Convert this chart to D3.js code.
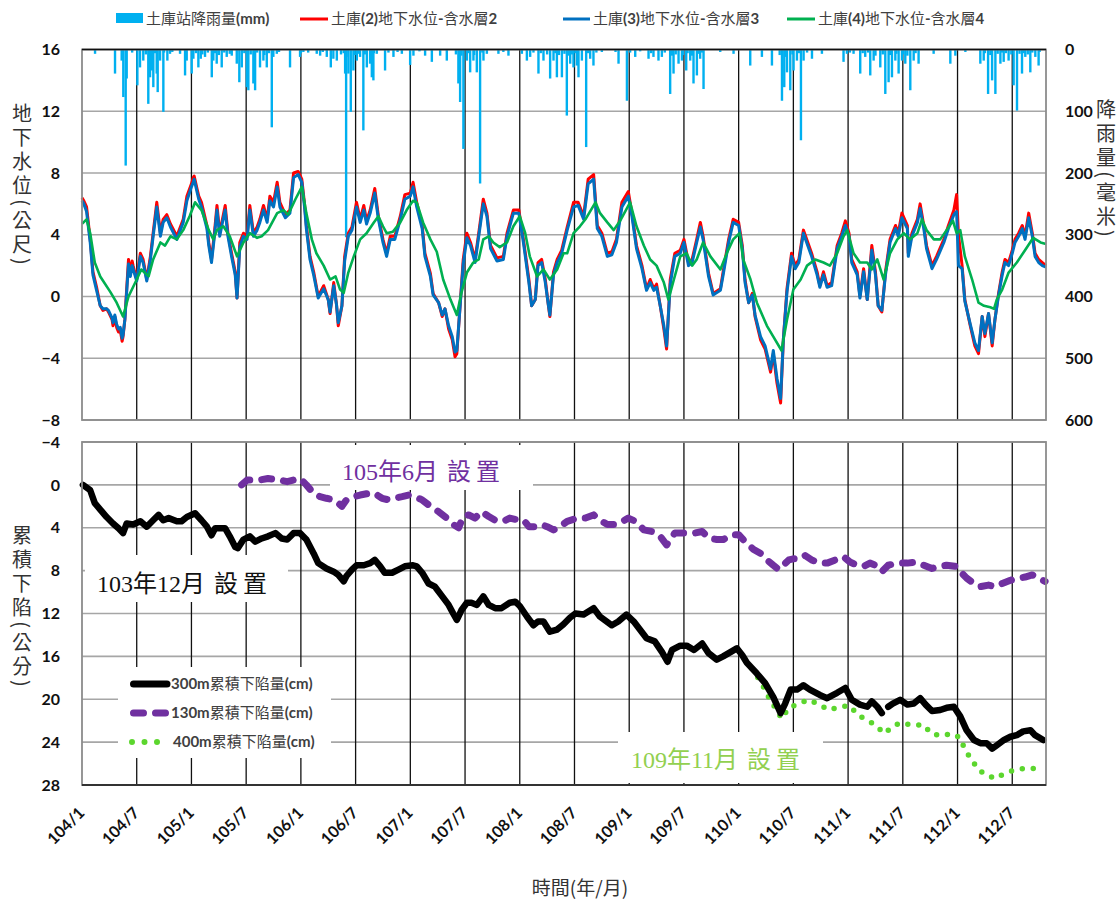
<!DOCTYPE html>
<html><head><meta charset="utf-8">
<script src="https://cdn.jsdelivr.net/npm/d3@7"></script>
<style>body{margin:0;background:#fff} svg{display:block}</style>
</head><body>
<svg id="chart" width="1120" height="900"></svg>
<script>
// ---------- DATA (months since 104/1) ----------
const halfYearTicks = [0,6,12,18,24,30,36,42,48,54,60,66,72,78,84,90,96,102];
const tickLabels = ["104/1","104/7","105/1","105/7","106/1","106/7","107/1","107/7","108/1","108/7","109/1","109/7","110/1","110/7","111/1","111/7","112/1","112/7"];
const levelTicks = [16,12,8,4,0,-4,-8];
const rainTicks = [0,100,200,300,400,500,600];
const subsTicks = [-4,0,4,8,12,16,20,24,28];

const legendTop = ["土庫站降雨量(mm)","土庫(2)地下水位-含水層2","土庫(3)地下水位-含水層3","土庫(4)地下水位-含水層4"];
const legendBottom = ["300m累積下陷量(cm)","130m累積下陷量(cm)","400m累積下陷量(cm)"];

const wlMonths = [0,0.2,0.5,0.9,1.2,1.6,2.0,2.3,2.7,2.9,3.3,3.4,3.6,3.8,4.0,4.2,4.4,4.5,4.7,4.9,5.1,5.3,5.5,5.6,6.0,6.4,6.7,7.1,7.5,7.8,8.2,8.6,8.9,9.3,9.7,10.4,11.1,11.5,12.0,12.2,12.3,12.6,12.8,13.1,13.7,13.9,14.2,14.5,14.8,15.1,15.4,15.7,16.0,16.4,16.8,17.0,17.3,17.7,18.1,18.4,18.8,19.2,19.5,19.9,20.3,20.6,21.0,21.4,21.7,22.3,22.8,23.2,23.7,24.1,24.4,24.6,25.0,25.4,25.9,26.5,27.0,27.2,27.6,27.9,28.1,28.5,28.8,29.2,29.6,30.1,30.5,30.9,31.2,31.6,32.1,32.5,33.0,33.4,33.8,34.3,34.9,35.4,36.0,36.3,36.7,37.3,37.6,38.2,38.5,39.1,39.5,39.8,40.2,40.6,40.9,41.1,41.5,41.8,42.2,42.6,43.1,43.5,44.0,44.4,44.8,45.5,46.2,46.6,47.3,47.9,48.4,49.0,49.3,49.7,50.0,50.4,50.8,51.1,51.3,51.7,52.1,52.6,53.2,53.9,54.4,55.0,55.5,56.1,56.5,57.0,57.6,58.1,58.6,59.2,59.9,60.3,60.8,61.4,61.9,62.3,62.7,63.0,63.4,63.8,64.1,64.5,65.0,65.6,66.0,66.5,66.9,67.4,67.8,68.1,68.7,69.2,70.0,70.3,70.9,71.4,72.0,72.4,72.7,73.1,73.5,73.8,74.4,74.9,75.5,75.8,76.2,76.6,76.9,77.3,77.8,78.2,78.6,79.1,79.7,80.0,80.6,80.9,81.3,81.7,82.2,82.8,83.3,83.7,84.1,84.4,85.0,85.3,85.7,86.1,86.6,87.0,87.3,87.7,88.1,88.6,89.2,89.5,89.9,90.5,90.6,91.0,91.6,91.9,92.3,92.6,93.2,93.7,94.5,95.0,95.6,95.9,96.1,96.5,96.8,97.4,97.9,98.3,98.7,99.0,99.4,99.8,100.1,100.5,100.9,101.2,101.6,102.0,102.3,102.7,103.1,103.4,103.8,104.2,104.5,104.9,105.3,105.7];
const aquifer2 = [6.4,6.2,5.8,3.7,1.6,0.6,-0.6,-0.9,-0.8,-1.0,-1.5,-1.9,-1.3,-2.0,-2.3,-2.2,-2.9,-2.6,-1.5,0.5,2.4,1.5,2.3,2.0,1.1,2.8,2.4,1.1,2.6,4.1,6.1,4.1,5.0,5.3,4.7,3.9,5.0,6.5,7.3,7.7,7.8,7.0,6.5,6.1,4.6,3.5,2.4,4.0,5.9,4.1,5.0,5.9,4.1,2.8,1.6,-0.1,3.5,4.1,3.9,5.9,4.1,4.5,5.0,5.9,5.0,6.5,6.1,7.4,6.1,5.3,5.6,8.0,8.1,7.6,6.0,4.6,2.6,1.6,0.0,0.7,-0.2,-1.1,0.9,-0.5,-1.9,-0.6,2.6,4.1,4.5,6.1,5.0,5.9,4.9,5.6,7.0,5.2,3.7,2.8,3.9,3.9,5.2,6.6,6.7,7.4,6.1,4.6,2.8,1.5,0.2,-0.4,-1.3,-0.8,-2.1,-2.8,-3.9,-3.7,-0.2,2.4,4.1,3.5,2.4,4.1,6.3,5.4,3.3,2.5,2.6,4.1,5.6,5.6,3.7,1.1,-0.6,-0.2,2.2,2.4,1.1,-0.4,-1.3,1.6,2.4,3.0,4.5,6.1,6.1,5.2,7.6,7.9,4.6,4.1,2.8,2.9,3.7,6.1,6.8,5.4,3.3,2.0,0.5,1.1,0.5,0.8,-0.6,-2.1,-3.4,1.1,2.8,3.0,3.7,2.2,2.4,3.7,4.8,3.9,1.5,0.2,0.5,1.6,3.7,5.0,4.8,3.3,1.1,-0.4,0.2,-1.3,-2.8,-3.4,-4.9,-3.7,-5.6,-6.9,-2.8,0.5,2.8,2.0,2.4,4.3,3.3,2.8,1.6,0.7,1.6,0.7,0.9,3.3,4.1,4.9,4.1,2.4,1.6,0.0,1.8,-0.2,3.3,1.6,-0.6,-1.0,1.6,3.7,4.6,4.1,5.4,4.6,2.8,4.1,5.0,6.0,4.6,3.3,2.0,2.6,3.7,4.6,5.6,6.6,4.0,2.0,-0.2,-1.9,-3.2,-3.7,-1.3,-2.6,-1.1,-3.2,-1.5,0.2,1.6,2.4,2.2,3.0,3.7,4.1,4.6,3.9,5.4,4.1,2.8,2.4,2.2,2.0];
const aquifer3 = [6.2,6.0,5.5,3.5,1.4,0.4,-0.6,-0.8,-0.8,-0.9,-1.4,-1.7,-1.2,-1.8,-2.1,-2.0,-2.7,-2.5,-1.5,0.3,2.1,1.3,2.0,1.8,1.0,2.6,2.2,1.0,2.4,3.9,5.8,3.9,4.8,5.1,4.5,3.7,4.8,6.2,7.1,7.4,7.6,6.8,6.3,5.8,4.4,3.3,2.2,3.8,5.6,3.9,4.8,5.6,3.9,2.6,1.4,-0.1,3.2,3.9,3.7,5.6,3.9,4.3,4.8,5.6,4.8,6.2,5.8,7.1,5.8,5.1,5.4,7.7,7.9,7.4,5.8,4.4,2.4,1.4,-0.1,0.5,-0.2,-1.0,0.7,-0.5,-1.7,-0.6,2.3,3.9,4.3,5.8,4.8,5.6,4.7,5.4,6.7,5.0,3.5,2.6,3.7,3.7,5.0,6.3,6.5,7.1,5.8,4.4,2.6,1.3,0.1,-0.4,-1.2,-0.8,-1.9,-2.6,-3.6,-3.5,-0.3,2.1,3.8,3.3,2.2,3.9,6.0,5.2,3.1,2.3,2.4,3.9,5.4,5.4,3.5,0.9,-0.6,-0.2,2.0,2.2,0.9,-0.4,-1.2,1.4,2.2,2.8,4.3,5.8,5.9,5.0,7.3,7.6,4.4,3.9,2.6,2.7,3.5,5.8,6.5,5.2,3.1,1.8,0.4,0.9,0.4,0.6,-0.6,-1.9,-3.2,0.8,2.6,2.8,3.5,2.0,2.2,3.5,4.5,3.7,1.3,0.1,0.4,1.4,3.5,4.8,4.6,3.1,0.9,-0.4,0.1,-1.2,-2.6,-3.2,-4.7,-3.5,-5.3,-6.6,-2.8,0.3,2.6,1.8,2.2,4.1,3.1,2.6,1.4,0.6,1.4,0.6,0.7,3.1,3.9,4.6,3.9,2.2,1.4,-0.1,1.6,-0.2,3.0,1.4,-0.6,-0.9,1.4,3.5,4.4,3.9,5.1,4.4,2.6,3.9,4.8,5.7,4.4,3.1,1.8,2.4,3.5,4.4,5.3,5.5,2.0,1.8,-0.3,-1.8,-3.0,-3.5,-1.3,-2.4,-1.1,-3.0,-1.5,0.1,1.4,2.2,2.0,2.8,3.5,3.9,4.4,3.7,5.1,3.9,2.6,2.2,2.0,1.9];

const aq4Months = [0,0.5,0.9,1.4,2.0,3.1,3.8,4.5,5.1,6.0,6.5,7.3,7.8,8.6,9.1,9.7,10.4,11.1,11.8,12.4,13.1,13.9,14.4,14.8,15.5,16.2,17.0,17.7,18.4,19.2,19.7,20.4,21.4,22.1,22.6,23.4,24.1,24.6,25.2,25.7,26.5,27.2,27.8,28.3,28.7,29.2,29.8,30.5,31.2,32.0,32.5,33.0,33.4,34.1,34.9,35.6,36.3,36.7,37.4,38.2,38.9,39.6,40.4,41.1,41.6,42.2,42.9,43.5,44.0,44.6,45.1,45.8,46.6,47.3,48.0,48.6,49.1,49.9,50.6,51.3,52.1,52.8,53.2,53.9,54.6,55.2,56.3,56.8,57.6,58.3,59.0,60.1,60.8,61.6,62.3,63.0,63.8,64.3,64.9,65.6,66.3,66.9,67.4,68.1,68.9,70.0,70.7,71.4,72.1,72.5,73.3,74.0,75.1,75.8,76.7,77.3,78.0,78.8,79.5,80.4,81.3,82.0,82.8,83.5,83.9,84.6,85.3,86.1,86.6,87.2,87.9,88.6,89.4,90.1,90.8,91.6,92.1,92.6,93.4,94.1,94.8,95.5,95.9,96.3,96.8,97.6,98.3,98.9,99.6,100.0,100.3,100.9,101.6,102.5,103.4,104.3,105.1,105.7];
const aquifer4 = [4.7,5.0,4.1,2.2,1.3,0.3,-0.4,-1.3,0.0,1.1,1.75,1.3,2.4,3.5,3.3,3.9,3.7,4.3,5.2,6.1,5.6,4.3,3.7,4.3,4.55,3.9,2.6,3.5,4.1,3.8,3.9,4.3,5.4,5.6,5.3,6.3,7.1,5.4,3.7,2.8,2.0,1.1,1.3,0.45,0.24,1.55,2.6,3.7,4.1,4.8,5.2,4.55,4.1,4.2,4.8,5.6,6.2,6.1,4.8,3.7,2.9,1.1,-0.2,-1.2,0.24,1.55,2.2,2.4,3.7,3.9,3.5,3.2,3.5,4.55,5.2,4.1,2.6,1.3,1.75,1.1,1.75,2.8,2.8,4.1,4.55,5.0,6.1,5.4,4.8,4.3,4.9,6.1,4.55,3.3,2.4,2.0,0.9,-0.2,1.1,2.6,2.8,2.0,2.4,3.5,2.6,1.75,2.8,3.7,4.1,2.4,1.1,-0.4,-1.9,-2.6,-3.5,-1.5,0.45,1.1,2.0,2.4,2.2,2.0,2.8,3.9,4.3,2.8,2.2,2.2,1.75,2.4,1.1,2.8,3.7,4.1,3.7,4.1,5.0,4.3,3.7,3.7,4.3,4.9,4.1,4.3,2.6,1.1,-0.4,-0.6,-0.7,-0.8,-0.2,0.45,1.55,2.2,3.0,3.8,3.5,3.4];

const rainMonths = [1.43,3.62,4.35,4.53,4.79,4.90,6.07,6.36,6.72,7.27,7.46,7.65,7.82,8.19,8.30,8.56,8.92,9.36,9.65,10.75,11.30,11.48,12.03,12.21,12.76,13.02,13.49,14.23,14.40,14.77,15.32,15.87,16.42,16.97,17.25,17.52,18.07,18.24,18.79,18.98,19.52,19.89,20.26,20.81,20.98,21.36,22.81,23.91,24.27,25.74,26.11,26.84,27.28,27.56,27.94,28.85,28.96,29.21,29.47,29.76,30.13,30.49,30.85,31.23,31.59,31.78,31.95,32.32,33.23,34.15,35.07,35.98,36.34,37.62,38.36,39.27,40.00,41.27,41.46,41.82,42.20,42.56,42.92,43.29,43.65,44.02,44.39,45.66,46.76,48.23,48.78,49.14,50.05,50.60,51.33,51.70,52.07,52.62,53.16,53.53,53.89,54.26,54.44,54.81,55.28,55.72,56.08,57.00,58.83,59.75,60.66,62.12,62.66,63.21,63.58,64.49,64.86,65.41,65.78,66.25,66.69,67.05,67.42,67.78,68.15,69.98,71.44,73.27,74.55,75.65,76.75,77.00,77.30,77.66,78.02,78.39,78.83,79.12,80.04,81.13,83.50,83.87,84.60,85.33,85.88,86.43,86.80,87.53,88.08,88.44,88.81,89.18,89.54,89.91,90.27,90.82,91.19,91.73,93.38,95.21,95.76,96.86,98.50,98.87,99.35,99.79,100.15,100.70,101.06,101.60,102.15,102.52,103.07,103.43,103.98,104.53,104.89,
  5.5,7.0,8.0,9.0,9.9,12.5,13.2,13.8,14.6,15.0,15.6,16.2,17.8,18.5,19.2,20.0,20.5,21.6,24.0,24.8,26.4,28.4,28.7,29.0,29.9,30.3,31.0,32.0,33.6,34.6,37.0,41.0,41.6,42.4,43.0,43.9,46.2,49.5,50.3,51.0,51.9,52.3,52.9,53.3,53.7,54.1,55.5,56.4,58.5,60.1,61.2,62.4,63.9,64.7,65.1,65.9,66.4,66.9,67.6,68.0,76.5,77.2,77.9,78.6,79.5,84.2,85.6,86.2,87.0,87.8,88.6,89.3,90.0,90.5,91.4,99.0,99.6,100.4,100.9,101.3,101.9,102.8,103.3,103.7,104.2,105.0];
const rainMM = [7,39,18,77,188,47,58,29,18,88,45,34,61,39,69,18,101,18,7,7,42,18,39,15,29,15,12,45,18,23,29,12,10,23,53,29,61,66,55,66,29,18,29,126,12,7,29,12,4,7,10,12,29,15,18,39,304,39,101,34,18,12,131,29,23,45,50,7,34,12,7,25,10,10,20,10,18,55,85,161,18,37,18,37,217,18,7,7,10,7,18,12,39,18,47,18,45,45,107,23,29,26,45,18,158,15,26,4,23,83,12,15,12,18,12,72,39,23,18,34,18,55,42,15,64,4,7,26,12,26,83,61,37,66,34,18,147,18,15,7,20,7,7,39,12,42,18,29,72,53,45,18,39,18,23,66,18,23,7,23,10,4,23,18,72,50,72,23,20,18,58,99,39,12,37,12,26,
  5,8,6,5,4,6,8,5,6,9,5,7,6,8,5,9,6,4,6,5,4,8,6,12,9,7,8,6,5,4,3,8,10,6,9,5,4,5,6,8,6,9,7,10,8,6,6,5,4,5,3,6,5,10,8,9,6,10,7,5,9,12,8,6,5,5,6,5,10,8,9,7,8,10,6,6,9,7,5,6,8,7,6,8,5,4];

const s300Months = [0.1,0.9,1.4,2.0,2.7,3.4,4.0,4.5,4.9,5.6,6.4,7.1,7.8,8.4,8.9,9.5,10.4,10.9,11.5,12.4,13.1,13.7,14.2,14.6,15.1,15.7,16.2,16.8,17.1,17.7,18.4,19.0,19.7,20.4,21.2,21.9,22.5,23.2,23.9,24.6,25.4,25.9,26.8,27.6,28.1,28.7,29.0,29.6,30.1,30.9,31.6,32.1,32.7,33.2,34.0,34.7,35.4,36.3,36.7,37.3,38.0,38.7,39.5,40.2,40.7,41.1,41.6,42.2,42.7,43.3,44.0,44.6,45.3,46.0,46.9,47.5,48.0,48.8,49.5,50.0,50.6,51.3,52.1,52.8,53.5,54.1,55.0,56.1,56.8,58.1,58.8,59.7,60.5,61.9,62.8,63.6,64.2,64.7,65.6,66.3,67.1,68.0,68.7,69.6,70.3,71.1,71.8,72.4,72.9,74.0,74.9,75.8,76.6,77.1,77.7,78.4,79.1,79.8,80.9,81.7,82.8,83.7,84.4,85.3,86.1,86.6,87.2,87.7,88.0,88.4,88.9,89.7,90.5,91.2,91.9,92.5,93.2,94.1,94.8,95.6,96.3,97.0,97.8,98.5,99.2,99.8,100.3,101.1,101.8,102.5,103.2,104.0,104.5,105.4];
const s300 = [0,0.5,1.7,2.3,3.0,3.6,4.05,4.5,3.6,3.7,3.4,3.9,3.3,2.8,3.3,3.1,3.4,3.4,3.0,2.65,3.3,3.9,4.7,4.05,4.05,4.05,4.8,5.8,5.9,5.1,4.8,5.3,5.0,4.8,4.5,5.0,5.1,4.5,4.5,5.1,6.4,7.3,7.8,8.1,8.4,9.0,8.5,7.9,7.5,7.5,7.3,7.0,7.6,8.2,8.2,7.9,7.6,7.5,7.6,8.2,9.2,9.5,10.4,11.2,12.0,12.6,11.7,11.0,11.0,11.2,10.4,11.2,11.5,11.5,11.0,10.9,11.3,12.3,13.1,12.75,12.75,13.7,13.5,13.0,12.4,12.0,12.1,11.5,12.3,13.1,12.75,12.1,12.75,14.3,14.6,15.6,16.5,15.4,15.0,15.0,15.4,14.8,15.7,16.3,16.0,15.6,15.25,15.9,16.6,17.6,18.5,19.8,21.3,20.4,19.1,19.1,18.7,19.1,19.6,19.9,19.4,18.95,20.05,20.5,20.7,20.2,20.7,21.3,null,20.7,20.4,20.05,20.5,20.4,19.9,20.5,21.1,21.0,20.8,20.7,21.6,22.9,23.8,24.1,24.1,24.6,24.3,23.8,23.5,23.35,23.0,22.9,23.35,23.8];

const s130Months = [17.5,18.1,19.5,20.4,21.7,22.5,23.2,23.9,24.6,25.4,26.1,26.8,27.6,28.1,28.5,29.0,29.8,30.5,31.4,32.1,32.9,33.6,34.3,35.1,35.8,36.5,37.3,38.2,39.1,40.0,40.7,41.3,41.8,42.4,43.1,43.8,44.6,45.3,46.2,46.9,47.7,48.4,49.0,49.7,50.4,51.0,51.7,52.4,53.2,54.3,55.2,56.1,56.7,57.6,58.5,59.0,59.9,60.7,61.6,62.5,63.4,64.1,65.0,66.0,66.5,67.2,68.0,68.7,69.6,70.3,71.3,72.0,72.7,73.6,74.4,75.1,75.8,76.4,76.9,77.5,78.0,78.8,79.3,80.0,80.9,81.7,82.6,83.5,84.2,85.0,85.7,86.4,87.0,87.7,88.4,89.4,90.5,91.4,92.3,93.2,94.1,94.8,95.8,96.3,97.0,97.8,98.5,99.4,100.1,100.9,101.8,102.7,103.4,104.2,104.9,105.6];
const s130 = [0.0,-0.45,-0.45,-0.6,-0.45,-0.3,-0.45,-0.6,0.0,0.8,1.1,1.25,1.4,1.7,2.0,1.4,1.1,0.95,0.8,0.8,1.25,1.4,1.25,1.1,0.95,1.1,1.4,2.0,2.5,3.1,3.7,4.0,2.95,2.8,3.1,2.5,2.95,3.3,3.4,3.1,3.25,3.25,3.9,3.9,3.7,3.9,4.2,3.9,3.4,3.1,3.1,2.8,3.25,3.7,3.7,3.55,3.1,3.4,4.2,4.35,4.8,5.6,4.5,4.5,4.5,4.5,4.35,4.95,5.1,5.1,4.65,4.65,5.3,6.0,6.4,7.0,7.5,7.9,7.5,7.0,6.9,6.9,6.6,7.0,7.3,7.3,7.0,6.7,7.2,7.5,7.6,7.3,7.5,8.1,7.5,7.3,7.3,7.2,7.5,7.8,7.6,7.5,7.6,8.1,8.7,9.2,9.5,9.35,9.5,9.2,8.9,8.7,8.6,8.4,8.7,9.0];

const s400Months = [72.7,73.5,74.2,74.9,75.5,76.2,76.7,77.5,78.6,79.7,80.8,81.9,83.1,84.2,85.0,85.9,86.6,87.3,88.1,88.6,89.7,91.0,92.3,93.1,94.1,95.4,96.3,96.8,97.6,98.3,99.2,100.1,101.2,102.3,103.4,104.5];
const s400 = [16.3,17.2,18.1,19.1,20.2,21.0,21.8,20.8,20.4,20.05,20.5,21.0,20.7,20.6,21.4,21.9,22.2,22.7,23.2,22.7,22.2,22.4,22.4,23.2,23.4,23.2,23.6,24.7,25.7,26.6,27.05,27.4,26.9,26.6,26.45,26.45];

// ---------- DRAWING ----------
const svg = d3.select("#chart");
const L = 82, R = 1046;
const TT = 49.5, TB = 420, BT = 442, BB = 785;
const x = d3.scaleLinear().domain([0, 105.7]).range([L, R]);
const yT = d3.scaleLinear().domain([-8, 16]).range([TB, TT]);
const yRain = d3.scaleLinear().domain([0, 600]).range([TT, TB]);
const yB = d3.scaleLinear().domain([-4, 28]).range([BT, BB]);

const LATIN = "Lato, 'Noto Sans', 'DejaVu Sans', sans-serif";
const CJK = "'Noto Sans CJK TC', 'Noto Sans CJK SC', sans-serif";
const GRID = "#a6a6a6";

function mixed(sel, str, latinW, cjkW) {
  str.split(/([\x00-\x7F]+)/).filter(s => s.length).forEach(p => {
    const a = /^[\x00-\x7F]+$/.test(p);
    sel.append("tspan").text(p)
      .attr("font-family", a ? LATIN : CJK)
      .attr("font-weight", a ? latinW : cjkW);
  });
}
const zip = (ts, vs) => ts.map((t, i) => [t, vs[i]]);

// --- top panel grid
const gTop = svg.append("g");
gTop.selectAll("line.h").data(levelTicks).join("line")
  .attr("x1", L).attr("x2", R).attr("y1", d => yT(d)).attr("y2", d => yT(d))
  .attr("stroke", GRID).attr("stroke-width", 1.6);
gTop.selectAll("line.v").data(halfYearTicks.slice(1)).join("line")
  .attr("x1", d => x(d)).attr("x2", d => x(d)).attr("y1", TT).attr("y2", TB)
  .attr("stroke", "#111").attr("stroke-width", 1.3);

// rain bars
gTop.append("g").selectAll("rect").data(zip(rainMonths, rainMM)).join("rect")
  .attr("x", d => x(d[0]) - 1.2).attr("width", 2.4)
  .attr("y", yRain(0)).attr("height", d => yRain(d[1]) - yRain(0))
  .attr("fill", "#00b0f0");

// water level lines
const lineT = d3.line().x(d => x(d[0])).y(d => yT(d[1]));
[[zip(wlMonths, aquifer2), "#ff0000", 3], [zip(wlMonths, aquifer3), "#0070c0", 3], [zip(aq4Months, aquifer4), "#00b050", 2.6]]
  .forEach(([data, c, w]) => gTop.append("path").datum(data).attr("d", lineT)
    .attr("fill", "none").attr("stroke", c).attr("stroke-width", w).attr("stroke-linejoin", "round"));

// frame
gTop.append("rect").attr("x", L).attr("y", TT).attr("width", R - L).attr("height", TB - TT)
  .attr("fill", "none").attr("stroke", "#8c8c8c").attr("stroke-width", 1.8);
gTop.append("line").attr("x1", L).attr("x2", R).attr("y1", TT).attr("y2", TT).attr("stroke", "#111").attr("stroke-width", 1.6);

// axes labels top
function styleAxis(g) {
  g.select(".domain").remove();
  g.selectAll("line").remove();
  g.attr("font-family", LATIN).attr("font-size", 16).attr("font-weight", "bold");
  g.selectAll("text").attr("fill", "#111");
}
svg.append("g").attr("transform", "translate(60,0)")
  .call(d3.axisLeft(yT).tickValues(levelTicks).tickSize(0).tickPadding(0)).call(styleAxis);
svg.append("g").attr("transform", "translate(1065,0)")
  .call(d3.axisRight(yRain).tickValues(rainTicks).tickSize(0).tickPadding(0)).call(styleAxis);

// --- bottom panel grid
const gBot = svg.append("g");
gBot.selectAll("line.h").data(subsTicks).join("line")
  .attr("x1", L).attr("x2", R).attr("y1", d => yB(d)).attr("y2", d => yB(d))
  .attr("stroke", GRID).attr("stroke-width", 1.6);
gBot.selectAll("line.v").data(halfYearTicks.slice(1)).join("line")
  .attr("x1", d => x(d)).attr("x2", d => x(d)).attr("y1", BT).attr("y2", BB)
  .attr("stroke", "#111").attr("stroke-width", 1.3);

// white label boxes
[[85, 555, 203, 47], [330, 445, 203, 45], [618, 732, 205, 51], [118, 667, 213, 91]].forEach(b =>
  gBot.append("rect").attr("x", b[0]).attr("y", b[1]).attr("width", b[2]).attr("height", b[3]).attr("fill", "#fff"));

// subsidence lines
const lineB = d3.line().defined(d => d[1] != null).x(d => x(d[0])).y(d => yB(d[1]));
gBot.append("path").datum(zip(s130Months, s130)).attr("d", lineB)
  .attr("fill", "none").attr("stroke", "#7030a0").attr("stroke-width", 7)
  .attr("stroke-dasharray", "10 12").attr("stroke-linecap", "round").attr("stroke-linejoin", "round");
gBot.append("path").datum(zip(s400Months, s400)).attr("d", lineB)
  .attr("fill", "none").attr("stroke", "#5cd62e").attr("stroke-width", 5.5)
  .attr("stroke-dasharray", "0 11").attr("stroke-linecap", "round");
gBot.append("path").datum(zip(s300Months, s300)).attr("d", lineB)
  .attr("fill", "none").attr("stroke", "#000").attr("stroke-width", 6.5)
  .attr("stroke-linecap", "round").attr("stroke-linejoin", "round");

// frame
gBot.append("rect").attr("x", L).attr("y", BT).attr("width", R - L).attr("height", BB - BT)
  .attr("fill", "none").attr("stroke", "#8c8c8c").attr("stroke-width", 1.8);
gBot.append("line").attr("x1", L).attr("x2", R).attr("y1", BB).attr("y2", BB).attr("stroke", "#333").attr("stroke-width", 2);

svg.append("g").attr("transform", "translate(60,0)")
  .call(d3.axisLeft(yB).tickValues(subsTicks).tickSize(0).tickPadding(0)).call(styleAxis);

// x axis labels
const xa = svg.append("g").attr("transform", `translate(0,${BB + 15})`)
  .call(d3.axisBottom(x).tickValues(halfYearTicks).tickFormat((d, i) => tickLabels[i]).tickSize(0));
styleAxis(xa);
xa.selectAll("text").attr("x", 0).attr("y", 0).attr("dy", null)
  .attr("text-anchor", "end").attr("transform", "translate(3,14) rotate(-45)");

// axis titles
function vtitle(txt, cx, cy) {
  svg.append("text").text(txt).attr("x", cx).attr("y", cy)
    .attr("text-anchor", "middle").attr("font-family", CJK).attr("font-size", 20)
    .attr("fill", "#333").style("writing-mode", "vertical-rl").style("letter-spacing", "4px");
}
vtitle("地下水位(公尺)", 22, 186);
vtitle("降雨量(毫米)", 1106, 170);
vtitle("累積下陷(公分)", 22, 608);
svg.append("text").text("時間(年/月)").attr("x", 580).attr("y", 895)
  .attr("text-anchor", "middle").attr("font-family", CJK).attr("font-size", 19).attr("fill", "#333");

// top legend
const tl = svg.append("g").attr("font-size", 15).attr("fill", "#404040");
tl.append("rect").attr("x", 116).attr("y", 13).attr("width", 27).attr("height", 10).attr("fill", "#00b0f0");
[[300, 328, "#ff0000"], [563, 590, "#0070c0"], [787, 815, "#00b050"]].forEach(l =>
  tl.append("line").attr("x1", l[0]).attr("x2", l[1]).attr("y1", 19).attr("y2", 19).attr("stroke", l[2]).attr("stroke-width", 3));
[146, 331, 593, 818].forEach((px, i) => {
  const t = tl.append("text").attr("x", px).attr("y", 24);
  mixed(t, legendTop[i], "bold", "normal");
});

// bottom legend
const bl = svg.append("g");
bl.append("line").attr("x1", 133.5).attr("x2", 167).attr("y1", 684).attr("y2", 684)
  .attr("stroke", "#000").attr("stroke-width", 7).attr("stroke-linecap", "round");
bl.append("line").attr("x1", 133.5).attr("x2", 167).attr("y1", 713).attr("y2", 713)
  .attr("stroke", "#7030a0").attr("stroke-width", 7).attr("stroke-linecap", "round").attr("stroke-dasharray", "10 12");
bl.append("line").attr("x1", 132).attr("x2", 158).attr("y1", 742).attr("y2", 742)
  .attr("stroke", "#5cd62e").attr("stroke-width", 6).attr("stroke-linecap", "round").attr("stroke-dasharray", "0 12.5");
[689, 718, 747].forEach((py, i) => {
  const t = bl.append("text").attr("x", i === 2 ? 173 : 171).attr("y", py).attr("font-size", 15).attr("fill", "#404040");
  mixed(t, legendBottom[i], "bold", "normal");
});

// annotations
function annot(parts, px, py, color) {
  const t = svg.append("text").attr("x", px).attr("y", py)
    .attr("font-family", "'Liberation Serif', " + CJK).attr("font-size", 24).attr("fill", color);
  parts.forEach(p => t.append("tspan").attr("dx", p[1]).text(p[0]));
}
annot([["103年12月", 0], ["設", 9], ["置", 5]], 97, 592, "#111");
annot([["105年6月", 0], ["設", 9], ["置", 5]], 342, 480, "#7030a0");
annot([["109年11月", 0], ["設", 9], ["置", 5]], 631, 768, "#92d050");
</script>
</body></html>
